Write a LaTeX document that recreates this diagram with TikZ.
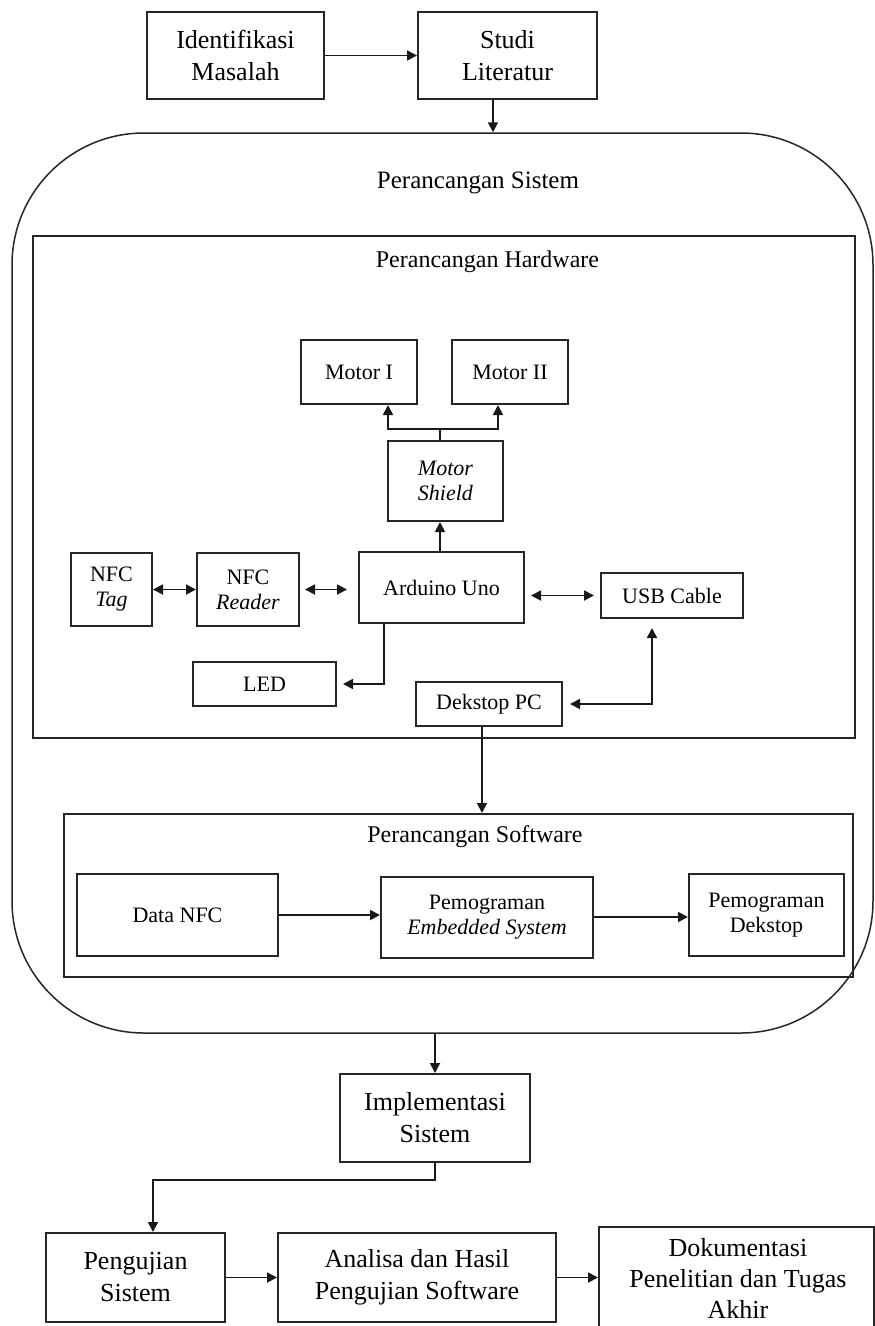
\documentclass[tikz,border=0pt]{standalone}
\usepackage{fontspec}
\setmainfont{Liberation Serif}
\usetikzlibrary{arrows.meta}
\begin{document}
\begin{tikzpicture}[x=1pt,y=-1pt,
  bx/.style={draw=black!85, line width=2pt, inner sep=0pt, align=center},
  big/.style={font=\fontsize{26}{32}\selectfont},
  mid/.style={font=\fontsize{22}{25}\selectfont},
  ttl/.style={font=\fontsize{24}{28}\selectfont, inner sep=0pt},
  ln/.style={line width=1.8pt, draw=black!90},
  arr/.style={ln, -{Triangle[length=10pt,width=10pt]}},
  dbl/.style={ln, {Triangle[length=10pt,width=10pt]}-{Triangle[length=10pt,width=10pt]}}
]
\useasboundingbox (0,0) rectangle (875,1326);
\fill[white] (0,0) rectangle (875,1326);

% top
\node[bx,big,minimum width=177pt,minimum height=87pt] (ident) at (235.5,55.5) {Identifikasi\\Masalah};
\node[bx,big,minimum width=179pt,minimum height=87pt] (studi) at (507.5,55.5) {Studi\\Literatur};

% system container
\node[draw=black!85, line width=1.5pt, rounded corners=132pt, minimum width=861pt, minimum height=900pt, inner sep=0pt] (sys) at (442.5,583) {};
\node[font=\fontsize{25}{30}\selectfont, inner sep=0pt] (systtl) at (478,183) {Perancangan Sistem};

% hardware
\node[bx, minimum width=822pt, minimum height=502pt] (hw) at (444,487) {};
\node[ttl] (hwttl) at (487.5,262) {Perancangan Hardware};
\node[bx,mid,minimum width=116pt,minimum height=64pt] (motor1) at (359,372) {Motor I};
\node[bx,mid,minimum width=116pt,minimum height=64pt] (motor2) at (510,372) {Motor II};
\node[bx,mid,minimum width=115pt,minimum height=80pt] (shield) at (445.5,481) {\textit{Motor}\\\textit{Shield}};
\node[bx,mid,minimum width=81pt,minimum height=73pt] (tag) at (111.5,589.5) {NFC\\\textit{Tag}};
\node[bx,mid,minimum width=102pt,minimum height=73pt] (reader) at (248,589.5) {NFC\\\textit{Reader}};
\node[bx,mid,minimum width=165pt,minimum height=71pt] (ard) at (441.5,587.5) {Arduino Uno};
\node[bx,mid,minimum width=142pt,minimum height=45pt] (usb) at (672,595.5) {USB Cable};
\node[bx,mid,minimum width=143pt,minimum height=44pt] (led) at (264.5,684) {LED};
\node[bx,mid,minimum width=146pt,minimum height=44pt] (desk) at (489,704) {Dekstop PC};

% software
\node[bx, minimum width=789pt, minimum height=163pt] (sw) at (458.5,895.5) {};
\node[ttl] (swttl) at (475,837) {Perancangan Software};
\node[bx,mid,minimum width=201pt,minimum height=82pt] (data) at (177.5,915) {Data NFC};
\node[bx,mid,minimum width=212pt,minimum height=81pt] (emb) at (487,917) {Pemograman\\\textit{Embedded System}};
\node[bx,mid,minimum width=155pt,minimum height=82pt] (dek) at (766.5,915) {Pemograman\\Dekstop};

% bottom
\node[bx,big,minimum width=190pt,minimum height=88pt] (impl) at (435,1118) {Implementasi\\Sistem};
\node[bx,big,minimum width=179pt,minimum height=89pt] (peng) at (135.5,1277.5) {Pengujian\\Sistem};
\node[bx,big,minimum width=278pt,minimum height=89pt] (anal) at (417,1277.5) {Analisa dan Hasil\\Pengujian Software};
\node[bx,minimum width=275pt,minimum height=108pt, anchor=north west] (dok) at (598,1226) {};
\node[font=\fontsize{26}{31}\selectfont, align=center, inner sep=0pt] (doktxt) at (738,1278) {Dokumentasi\\Penelitian dan Tugas\\Akhir};

% coordinates
\coordinate (c1) at (493,0);
\coordinate (j) at (440,429);
\coordinate (m1) at (388,429);
\coordinate (m2) at (498,429);
\coordinate (l1) at (384,0);
\coordinate (u1) at (652,0);
\coordinate (c5) at (482,0);
\coordinate (c3) at (153,1180);

% connectors top
\draw[arr] (ident.east) -- (studi.west |- ident.east);
\draw[arr] (studi.south -| c1) -- (sys.north -| c1);

% hardware connectors
\draw[ln] (shield.north -| j) -- (j);
\draw[arr] (j) -- (m1) -- (motor1.south -| m1);
\draw[arr] (j) -- (m2) -- (motor2.south -| m2);
\draw[arr] (ard.north -| j) -- (shield.south -| j);
\draw[dbl] (tag.east) -- (reader.west |- tag.east);
\draw[dbl, shorten <=5pt, shorten >=11pt] (reader.east) -- (ard.west |- reader.east);
\draw[dbl, shorten <=6pt, shorten >=6pt] (ard.east |- usb.west) -- (usb.west);
\draw[arr, shorten >=6pt] (ard.south -| l1) |- (led.east);
\draw[dbl, shorten <=9pt, shorten >=7pt] (usb.south -| u1) |- (desk.east);
\draw[arr] (desk.south -| c5) -- (sw.north -| c5);

% software connectors
\draw[arr] (data.east) -- (emb.west |- data.east);
\draw[arr] (emb.east) -- (dek.west |- emb.east);

% bottom connectors
\draw[arr] (sys.south -| impl.north) -- (impl.north);
\draw[arr] (impl.south) |- (c3) -- (peng.north -| c3);
\draw[arr] (peng.east) -- (anal.west);
\draw[arr] (anal.east) -- (dok.west |- anal.east);
\end{tikzpicture}
\end{document}
